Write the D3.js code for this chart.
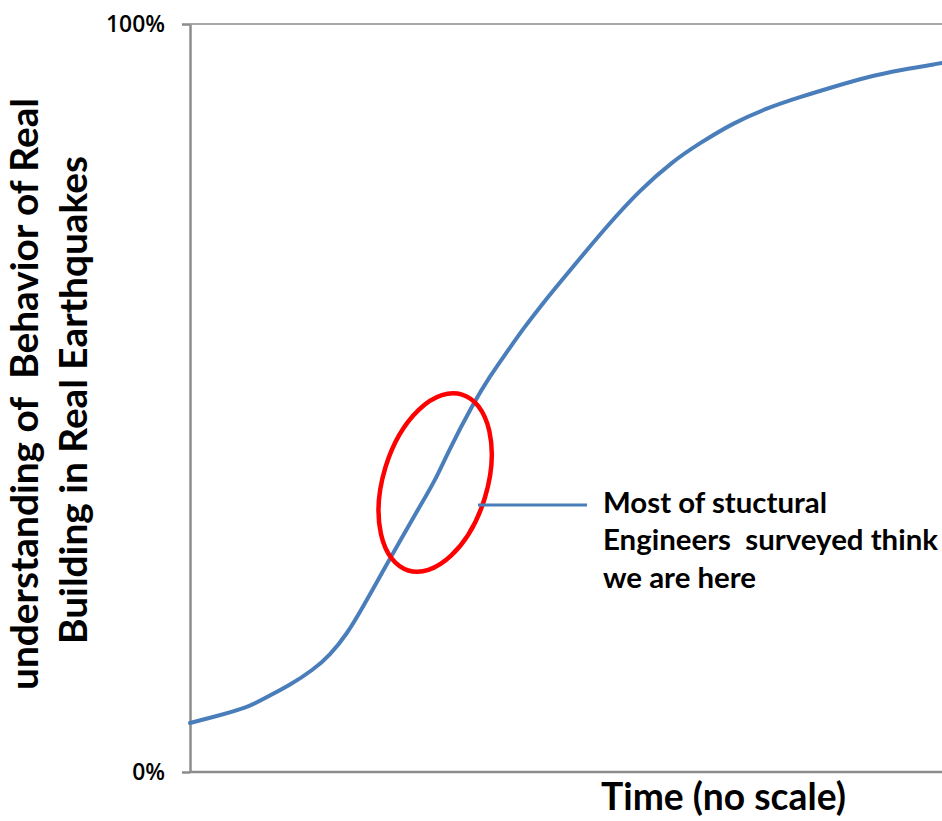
<!DOCTYPE html>
<html>
<head>
<meta charset="utf-8">
<script src="https://cdn.jsdelivr.net/npm/d3@7"></script>
<style>
  html, body { margin: 0; padding: 0; background: #fff; }
  svg { display: block; }
  text { font-family: Lato, "Open Sans", sans-serif; fill: #000; white-space: pre; }
</style>
</head>
<body>
<svg id="chart" width="942" height="821"></svg>
<script>
// ---- data (time in arbitrary units 0..100, understanding in %) ----
const timeValues = [0, 3.06, 7.58, 10.24, 13.30, 16.36, 18.62, 20.88, 23.0, 25.66, 27.93, 30.19, 32.58, 34.31, 37.63, 39.89, 42.15, 44.28, 46.54, 48.80, 51.46, 55.45, 59.84, 64.23, 67.82, 72.21, 76.73, 81.12, 85.51, 90.03, 94.41, 100];
const understanding = [6.55, 7.35, 8.56, 10.03, 11.63, 13.64, 15.64, 18.45, 22.06, 26.87, 30.88, 34.89, 38.90, 42.78, 49.20, 52.94, 56.15, 59.22, 62.17, 64.97, 68.18, 72.99, 77.81, 81.68, 84.09, 86.76, 88.77, 90.24, 91.58, 92.91, 93.85, 94.79];
const yTicks = [0, 100];
const yTickLabels = ["0%", "100%"];
const yTitleLines = ["understanding of  Behavior of Real", "Building in Real Earthquakes"];
const xTitle = "Time (no scale)";
const calloutLines = ["Most of stuctural", "Engineers  surveyed think", "we are here"];
// ellipse annotation in data units (centre) and callout anchor
const ellipseCenter = { t: 32.6, u: 38.7 };
const calloutAnchor = { t: 38.3, u: 35.7 };
const calloutEnd = { t: 52.8, u: 35.7 };

(function () {
const svg = d3.select("#chart");
const mL = 190, mR = 942, mT = 24, mB = 772;
const x = d3.scaleLinear().domain([0, 100]).range([mL, mR]);
const y = d3.scaleLinear().domain([0, 100]).range([mB, mT]);

const axisColor = "#8c8c8c";

function fit(sel, target) {
  const node = sel.node();
  const fs = parseFloat(sel.attr("font-size"));
  const w = node.getComputedTextLength();
  const nfs = fs * target / w;
  sel.attr("font-size", nfs.toFixed(2));
  return nfs;
}

// gridline at 100% and x axis line
svg.append("g").selectAll("line").data(yTicks).join("line")
  .attr("x1", mL).attr("x2", mR)
  .attr("y1", d => y(d)).attr("y2", d => y(d))
  .attr("stroke", axisColor).attr("stroke-width", d => d === 0 ? 2.5 : 1.5);

// y axis
const yAxis = d3.axisLeft(y).tickValues(yTicks).tickSize(8).tickSizeOuter(0)
  .tickFormat(d => yTickLabels[yTicks.indexOf(d)]);
const gy = svg.append("g").attr("transform", `translate(${mL},0)`).call(yAxis);
gy.attr("font-family", null).attr("font-size", null);
gy.select(".domain").attr("stroke", axisColor).attr("stroke-width", 2.5);
gy.selectAll(".tick line").attr("stroke", axisColor).attr("stroke-width", 2.5);
gy.selectAll(".tick text").attr("x", -25).attr("font-size", 20).attr("fill", "#000")
  .attr("font-weight", 600)
  .style("font-family", "'Open Sans', sans-serif");
let tickFs = 20;
gy.selectAll(".tick text").filter(d => d === 100).each(function () {
  tickFs = fit(d3.select(this), 59);
});
gy.selectAll(".tick text").attr("font-size", tickFs.toFixed(2));

// curve
const line = d3.line()
  .x((d, i) => x(timeValues[i]))
  .y(d => y(d))
  .curve(d3.curveBasis);
svg.append("path").datum(understanding)
  .attr("d", line)
  .attr("fill", "none")
  .attr("stroke", "#4a7ebb")
  .attr("stroke-width", 4)
  .attr("stroke-linecap", "round");

// ellipse
const ex = x(ellipseCenter.t), ey = y(ellipseCenter.u);
svg.append("ellipse")
  .attr("cx", 0).attr("cy", 0).attr("rx", 52).attr("ry", 92)
  .attr("transform", `translate(${ex},${ey}) rotate(17)`)
  .attr("fill", "none").attr("stroke", "#ff0000").attr("stroke-width", 4.5);

// callout line
svg.append("line")
  .attr("x1", x(calloutAnchor.t)).attr("y1", y(calloutAnchor.u))
  .attr("x2", x(calloutEnd.t)).attr("y2", y(calloutEnd.u))
  .attr("stroke", "#4a7ebb").attr("stroke-width", 3);

// callout text
const calloutBase = [513, 550, 588];
const cts = calloutLines.map((t, i) => svg.append("text").attr("x", 603).attr("y", calloutBase[i])
    .attr("font-size", 24).attr("font-weight", "bold").text(t));
const cfs = fit(cts[1], 335);
cts.forEach(s => s.attr("font-size", cfs.toFixed(2)));

// x title
const xt = svg.append("text").attr("x", 601).attr("y", 810)
  .attr("font-size", 30).attr("font-weight", "bold").text(xTitle);
fit(xt, 245);

// y title (rotated)
const yLineBase = [38, 87];
const yLineCenter = [394, 400];
const yts = yTitleLines.map((t, i) => svg.append("text")
    .attr("transform", `translate(${yLineBase[i]},${yLineCenter[i]}) rotate(-90)`)
    .attr("text-anchor", "middle")
    .attr("font-size", 32).attr("font-weight", "bold").text(t));
const yfs = fit(yts[0], 592);
yts.forEach(s => s.attr("font-size", yfs.toFixed(2)));
})();
</script>
</body>
</html>
